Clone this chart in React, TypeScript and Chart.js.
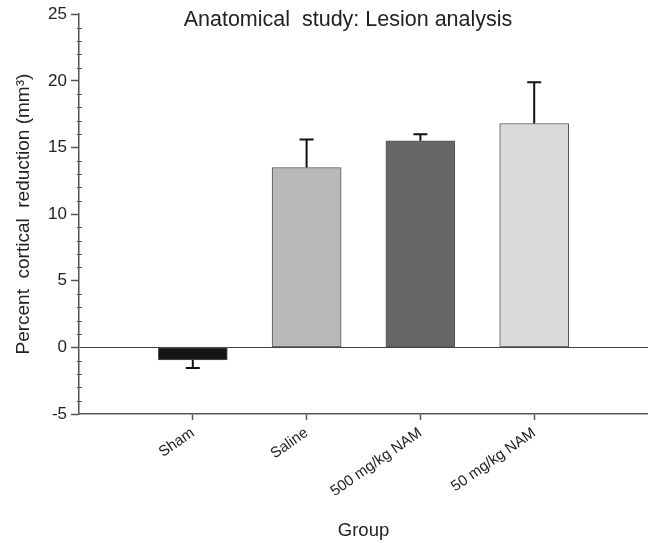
import React, { useEffect, useRef } from 'react';
import { Chart, registerables } from 'chart.js';

Chart.register(...registerables);

const chartTitle = 'Anatomical  study: Lesion analysis';
const xAxisTitle = 'Group';
const yAxisTitle = 'Percent  cortical  reduction (mm³)';
const groups = ['Sham', 'Saline', '500 mg/kg NAM', '50 mg/kg NAM'];
const groupPositions = [1, 2, 3, 4];
const means = [-0.95, 13.5, 15.5, 16.8];
const errors = [0.6, 2.1, 0.5, 3.1];
const barColors = ['#141414', '#b9b9b9', '#676767', '#dadada'];
const yMinorTicks = [-4, -3, -2, -1, 1, 2, 3, 4, 6, 7, 8, 9, 11, 12, 13, 14, 16, 17, 18, 19, 21, 22, 23, 24];

const FONT = '"Liberation Sans", Arial, Helvetica, sans-serif';

const errorBarPlugin = {
  id: 'errorBars',
  afterDatasetsDraw(chart: any) {
    const ctx = chart.ctx;
    const meta = chart.getDatasetMeta(0);
    const ys = chart.scales.y;
    ctx.save();
    ctx.strokeStyle = '#111';
    ctx.lineWidth = 2;
    meta.data.forEach((el: any, i: number) => {
      const m = means[i];
      const e = errors[i];
      const end = m >= 0 ? m + e : m - e;
      const x = el.x;
      const y0 = ys.getPixelForValue(m);
      const y1 = ys.getPixelForValue(end);
      ctx.beginPath();
      ctx.moveTo(x, y0);
      ctx.lineTo(x, y1);
      ctx.moveTo(x - 7, y1);
      ctx.lineTo(x + 7, y1);
      ctx.stroke();
    });
    ctx.restore();
  },
};

const decorPlugin = {
  id: 'decor',
  afterDraw(chart: any) {
    const ctx = chart.ctx;
    const ys = chart.scales.y;
    const left = chart.chartArea.left;
    ctx.save();
    ctx.strokeStyle = '#555';
    ctx.lineWidth = 1;
    yMinorTicks.forEach((v) => {
      const py = Math.round(ys.getPixelForValue(v)) + 0.5;
      ctx.beginPath();
      ctx.moveTo(left - 2, py);
      ctx.lineTo(left + 3, py);
      ctx.stroke();
    });
    ctx.fillStyle = '#222';
    ctx.font = '21.5px ' + FONT;
    ctx.textAlign = 'center';
    ctx.textBaseline = 'alphabetic';
    ctx.fillText(chartTitle, 348, 26);
    ctx.restore();
  },
};

export default function App() {
  const ref = useRef<HTMLCanvasElement | null>(null);
  useEffect(() => {
    document.body.style.margin = '0';
    const canvas = ref.current;
    if (!canvas) return;
    const chart = new Chart(canvas, {
      type: 'bar',
      data: {
        datasets: [
          {
            data: means.map((m, i) => ({ x: groupPositions[i], y: m })),
            backgroundColor: barColors,
            borderColor: '#555',
            borderWidth: 1,
            borderSkipped: false,
            barThickness: 69,
          },
        ],
      },
      plugins: [errorBarPlugin, decorPlugin],
      options: {
        responsive: false,
        animation: false,
        maintainAspectRatio: false,
        layout: { padding: { top: 14, left: 0, right: 0, bottom: 0 } },
        plugins: {
          legend: { display: false },
          tooltip: { enabled: false },
          title: { display: false },
        },
        scales: {
          x: {
            type: 'linear',
            min: 0,
            max: 5,
            offset: false,
            afterBuildTicks: (s: any) => {
              s.ticks = groupPositions.map((v) => ({ value: v }));
            },
            afterFit: (s: any) => {
              s.height = 129;
            },
            ticks: {
              autoSkip: false,
              minRotation: 35,
              maxRotation: 35,
              padding: 4,
              color: '#222',
              font: { family: FONT, size: 15 },
              callback: (v: any) => groups[groupPositions.indexOf(Number(v))] ?? '',
            },
            grid: {
              offset: false,
              drawOnChartArea: false,
              drawTicks: true,
              tickLength: 6,
              tickColor: '#555',
              tickWidth: 1.5,
            },
            border: { display: true, color: '#555', width: 1.5 },
            title: {
              display: true,
              text: xAxisTitle,
              color: '#222',
              font: { family: FONT, size: 18.5 },
              padding: { top: 0, bottom: 1 },
            },
          },
          y: {
            min: -5,
            max: 25,
            afterFit: (s: any) => {
              s.width = 79;
            },
            ticks: {
              stepSize: 5,
              padding: 4,
              color: '#222',
              font: { family: FONT, size: 17 },
            },
            grid: {
              drawOnChartArea: true,
              drawTicks: true,
              tickLength: 8,
              tickColor: '#555',
              tickWidth: 1.5,
              color: (c: any) => (c.tick && c.tick.value === 0 ? '#444' : 'rgba(0,0,0,0)'),
              lineWidth: 1,
            },
            border: { display: true, color: '#555', width: 1.5 },
            title: {
              display: true,
              text: yAxisTitle,
              color: '#222',
              font: { family: FONT, size: 19 },
              padding: { top: 12, bottom: 0 },
            },
          },
        },
      } as any,
    });
    return () => chart.destroy();
  }, []);
  return <canvas ref={ref} width={648} height={543} style={{ display: 'block', width: 648, height: 543 }} />;
}
